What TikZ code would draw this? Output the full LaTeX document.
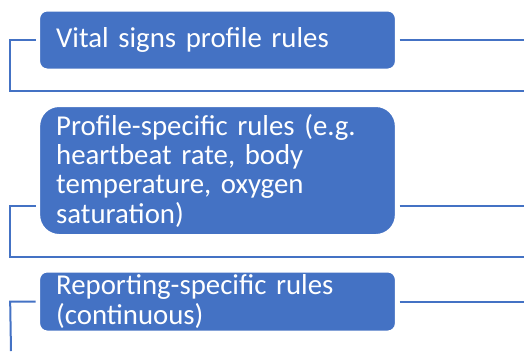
\documentclass[tikz,border=0pt]{standalone}
\usepackage{fontspec}
\setmainfont{Carlito}
\usepackage{xcolor}
\usepackage{tikz}
\definecolor{ruleblue}{HTML}{4472C4}

\begin{document}
\begin{tikzpicture}[x=0.75pt, y=-0.75pt,
    rulebox/.style={rectangle, draw=white, line width=1.5pt, fill=ruleblue, text=white,
        text width=242pt, align=left, inner xsep=12.75pt, inner ysep=0pt,
        font=\fontsize{21.6}{22}\selectfont},
    link/.style={draw=ruleblue, line width=1.5pt}]
    \useasboundingbox (0,0) rectangle (524,351);

    % Rule groups
    \node[rulebox, rounded corners=6pt, minimum height=44.25pt] (vital) at (217.5,40) {Vital signs profile rules};

    \node[rulebox, rounded corners=15pt, minimum height=96.75pt] (profile) at (217.5,170.5) {Profile-specific rules (e.g.\\heartbeat rate, body\\temperature, oxygen\\saturation)};

    \node[rulebox, rounded corners=6pt, minimum height=45pt] (report) at (217.5,301.5) {Reporting-specific rules\\(continuous)};

    % Free ends
    \coordinate (vitalB) at (524,91);
    \coordinate (profileR) at (524,206);
    \coordinate (profileB) at (524,257);
    \coordinate (edgeR) at (524,0);
    \coordinate (reportB) at (11,351);

    % Connectors
    \draw[link, shorten <=2pt] (vital.east) -- (vital.east -| edgeR);
    \draw[link, shorten <=2pt] (vital.west) -- ++(-28,0) |- (vitalB);
    \draw[link, shorten <=2pt] (profile.east |- profileR) -- (profileR);
    \draw[link, shorten <=2pt] (profile.west |- profileR) -- ++(-28,0) |- (profileB);
    \draw[link, shorten <=2pt] (report.east) -- (report.east -| edgeR);
    \draw[link, shorten <=2pt] (report.west) -- ++(-28,0) -- (reportB);
\end{tikzpicture}
\end{document}
